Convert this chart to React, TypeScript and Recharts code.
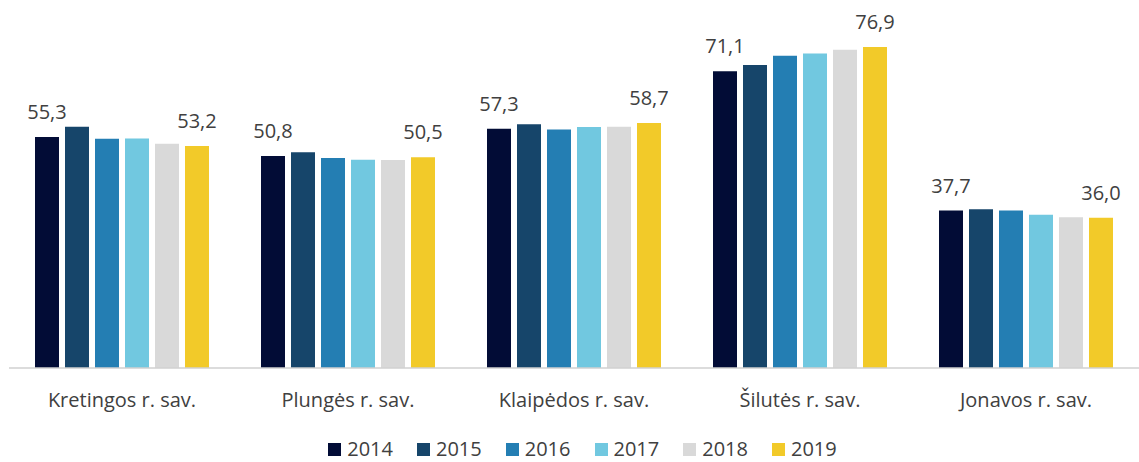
import { Bar, BarChart, LabelList, Legend, XAxis, YAxis } from "recharts";

const categories = [
  "Kretingos r. sav.",
  "Plungės r. sav.",
  "Klaipėdos r. sav.",
  "Šilutės r. sav.",
  "Jonavos r. sav.",
];

const years = ["2014", "2015", "2016", "2017", "2018", "2019"];

const v2014 = [55.3, 50.8, 57.3, 71.1, 37.7];
const v2015 = [57.8, 51.7, 58.4, 72.6, 38.0];
const v2016 = [54.9, 50.3, 57.1, 74.8, 37.7];
const v2017 = [55.0, 49.9, 57.7, 75.3, 36.7];
const v2018 = [53.7, 49.8, 57.8, 76.2, 36.1];
const v2019 = [53.2, 50.5, 58.7, 76.9, 36.0];

const series = [v2014, v2015, v2016, v2017, v2018, v2019];

const COLORS = ["#020c36", "#16456a", "#247eb3", "#71c8e0", "#d9d9d9", "#f2ca29"];

const FONT = "'Open Sans', Lato, sans-serif";
const TEXT = "#404040";

const data = categories.map((name, i) => {
  const row: Record<string, string | number> = { name };
  years.forEach((y, j) => {
    row[y] = series[j][i];
  });
  return row;
});

const fmt = (v: unknown) => (typeof v === "number" ? v.toFixed(1).replace(".", ",") : "");

function LegendBox() {
  return (
    <div
      style={{
        display: "flex",
        justifyContent: "center",
        alignItems: "center",
        height: 26,
        fontFamily: FONT,
        fontSize: 20,
        lineHeight: "20px",
        color: TEXT,
        paddingLeft: 17,
        position: "relative",
        top: 4,
      }}
    >
      {years.map((y, i) => (
        <span
          key={y}
          style={{
            display: "flex",
            alignItems: "center",
            height: 20,
            marginRight: i < years.length - 1 ? 24 : 0,
          }}
        >
          <span
            style={{ width: 13, height: 13, background: COLORS[i], marginRight: 6, display: "inline-block" }}
          />
          {y}
        </span>
      ))}
    </div>
  );
}

export default function App() {
  return (
    <div style={{ position: "absolute", left: 0, top: 0, width: 1139, height: 462, background: "#fff" }}>
      <BarChart
        width={1139}
        height={462}
        data={data}
        margin={{ top: 34, right: 0, left: 9, bottom: 0 }}
        barSize={24}
        barGap={6}
      >
        <XAxis
          dataKey="name"
          height={64}
          tickLine={false}
          tickSize={0}
          tickMargin={25}
          axisLine={{ stroke: "#d0d0d0", strokeWidth: 1.5 }}
          tick={{ fill: TEXT, fontSize: 20, fontFamily: FONT }}
          interval={0}
        />
        <YAxis hide domain={[0, 80]} />
        <Legend verticalAlign="bottom" height={30} content={() => <LegendBox />} />
        {years.map((y, i) => (
          <Bar key={y} dataKey={y} fill={COLORS[i]} isAnimationActive={false}>
            {(i === 0 || i === years.length - 1) && (
              <LabelList
                dataKey={y}
                position="top"
                offset={18}
                formatter={fmt}
                style={{ fill: TEXT, fontSize: 20, fontFamily: FONT }}
              />
            )}
          </Bar>
        ))}
      </BarChart>
    </div>
  );
}
